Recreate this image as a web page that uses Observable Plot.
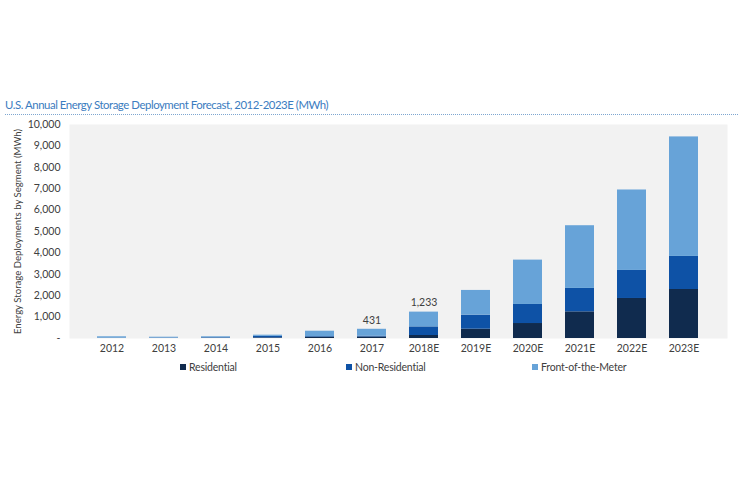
<!DOCTYPE html>
<html>
<head>
<meta charset="utf-8">
<script src="https://cdn.jsdelivr.net/npm/d3@7"></script>
<script src="https://cdn.jsdelivr.net/npm/@observablehq/plot@0.6"></script>
<style>
  html, body { margin: 0; padding: 0; background: #ffffff; }
  #wrap { position: relative; width: 745px; height: 483px; overflow: hidden; font-family: Lato, "Open Sans", sans-serif; }
  #title { position: absolute; left: 5px; top: 98px; font-size: 11.4px; letter-spacing: -0.45px; color: #3b7cc0; white-space: nowrap; }
  #rule { position: absolute; left: 5px; top: 114px; width: 733px; height: 0; border-top: 1px dotted #7ea6d0; }
  #chart { position: absolute; left: 0; top: 0; }
  .leg { position: absolute; top: 361px; font-size: 10.5px; letter-spacing: -0.2px; color: #404040; white-space: nowrap; display: flex; align-items: center; }
  .leg span.sw { display: inline-block; width: 6px; height: 6px; margin-right: 3px; }
</style>
</head>
<body>
<div id="wrap">
  <div id="title">U.S. Annual Energy Storage Deployment Forecast, 2012-2023E (MWh)</div>
  <div id="rule"></div>
  <div id="chart"></div>
  <div id="legend"></div>
</div>
<script>
const years = ["2012","2013","2014","2015","2016","2017","2018E","2019E","2020E","2021E","2022E","2023E"];
const segments = ["Residential","Non-Residential","Front-of-the-Meter"];
const residential    = [5, 5, 10, 30, 60, 70, 140, 435, 700, 1245, 1870, 2290];
const nonResidential = [10, 15, 25, 70, 30, 40, 403, 655, 890, 1095, 1310, 1545];
const frontOfMeter   = [65, 40, 45, 55, 250, 321, 690, 1156, 2073, 2930, 3760, 5585];
const totalLabels = [null, null, null, null, null, "431", "1,233", null, null, null, null, null];
const yTicks = [0, 1000, 2000, 3000, 4000, 5000, 6000, 7000, 8000, 9000, 10000];
const colors = ["#102b4e", "#0e52a6", "#67a3d8"];
const yLabel = "Energy Storage Deployments by Segment (MWh)";

const series = [residential, nonResidential, frontOfMeter];
const data = [];
segments.forEach((s, si) => years.forEach((y, i) => data.push({year: y, segment: s, value: series[si][i]})));
const totals = years.map((y, i) => ({year: y, total: residential[i] + nonResidential[i] + frontOfMeter[i], label: totalLabels[i]}))
  .filter(d => d.label);
const fmt = d => d === 0 ? "-" : d3.format(",")(d);

const chart = Plot.plot({
  width: 745,
  height: 483,
  marginLeft: 69,
  marginRight: 18,
  marginTop: 124,
  marginBottom: 145,
  style: {fontFamily: "Lato, 'Open Sans', sans-serif", fontSize: "10.5px", color: "#404040", background: "transparent"},
  x: {domain: years, padding: 0.44, label: null},
  y: {domain: [0, 10000], label: null},
  color: {domain: segments, range: colors},
  marks: [
    Plot.frame({fill: "#f2f2f2", stroke: null}),
    Plot.barY(data, {x: "year", y: "value", fill: "segment", order: segments}),
    Plot.text(totals, {x: "year", y: "total", text: "label", dy: -9, fill: "#404040", fontSize: 10.5}),
    Plot.axisX({tickSize: 0, tickPadding: 6, fill: "#404040", label: null}),
    Plot.axisY({ticks: yTicks, tickSize: 0, tickPadding: 9, tickFormat: fmt, label: null, fill: "#404040"}),
    Plot.text([yLabel], {frameAnchor: "left", textAnchor: "middle", dx: -52, rotate: -90, fill: "#404040", fontSize: 9.6})
  ]
});
document.getElementById("chart").appendChild(chart);

const legendPos = [180, 346, 532];
const legend = document.getElementById("legend");
segments.forEach((s, i) => {
  const d = document.createElement("div");
  d.className = "leg";
  d.style.left = legendPos[i] + "px";
  d.innerHTML = `<span class="sw" style="background:${colors[i]}"></span>${s}`;
  legend.appendChild(d);
});
</script>
</body>
</html>
